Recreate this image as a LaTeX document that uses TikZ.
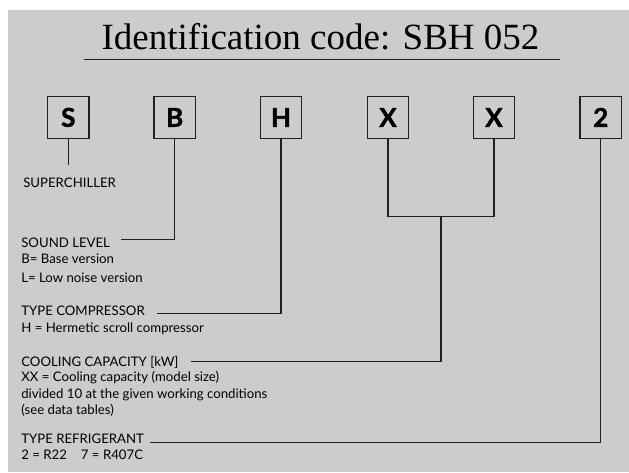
\documentclass[tikz,border=0pt]{standalone}
\usepackage{fontspec}
\setmainfont{Lato}
\newfontfamily\titlefont{Liberation Serif}
\newfontfamily\codefont{Lato}[BoldFeatures={FakeBold=1.6}]
\definecolor{panel}{gray}{0.8}
\definecolor{ink}{gray}{0.12}

\begin{document}
\begin{tikzpicture}
[x=1pt,y=-1pt,line width=1.2pt,draw=ink,%
  codebox/.style={shape=rectangle,draw,minimum size=41.5pt,inner sep=0pt,%
    font=\codefont\fontsize{26}{26}\selectfont\bfseries},%
  heading/.style={anchor=base west,inner sep=0pt,text depth=0pt,%
    font=\fontsize{13.2}{16}\selectfont},%
  detail/.style={anchor=base west,inner sep=0pt,align=left,%
    font=\fontsize{13.2}{16.3}\selectfont},%
  elbow/.style={to path={-| (\tikztotarget)}}]
\useasboundingbox (0,0) rectangle (629,472);
\fill[panel] (8,10) rectangle (629,472);
%% title
\node[anchor=base,inner sep=0pt,font=\titlefont\fontsize{37}{40}\selectfont]
  (title) at (320.5,49.3) {Identification code: SBH 052};
\draw (83.5,59.3) -- (560,59.3);
%% code letters
\foreach \name/\letter/\xpos in {s/S/68.3, b/B/174.7, h/H/281, xa/X/388, xb/X/494, r/2/600.7}
  \node[codebox] (\name) at (\xpos,117.4) {\letter};
%% texts (multi-line ones sit on their last line)
\node[heading] (super) at (22.7,187) {SUPERCHILLER};
\node[heading] (sound) at (20.7,247.3) {SOUND LEVEL};
\node[detail] (sound info) at (20.7,282) {B= Base version\\[2pt]L= Low noise version};
\node[heading] (comp) at (20.7,315.7) {TYPE COMPRESSOR};
\node[detail] (comp info) at (20.7,332.7) {H = Hermetic scroll compressor};
\node[heading] (cool) at (20.7,366.7) {COOLING CAPACITY [kW]};
\node[detail] (cool info) at (20.7,414.5) {XX = Cooling capacity (model size)\\
  divided 10 at the given working conditions\\(see data tables)};
\node[heading] (refr) at (20.7,443.3) {TYPE REFRIGERANT};
\node[detail] (refr info) at (20.7,459.3) {2 = R22\hspace{14pt}7 = R407C};
%% connectors
\coordinate (xjoin) at (441,216.7);
\draw (s.south) -- (s.south |- super.north) [shorten >=11.7pt];
\draw (xa.south) |- (xjoin) -| (xb.south);
\path
\foreach \startNode/\endNode/\gap/\lift in {sound/b/10.7/2.7, comp/h/11.7/-2.9, cool/xjoin/11.7/0, refr/r/5/-3.7}
{
  ([xshift=\gap pt,yshift=\lift pt]\startNode.east) edge[elbow] (\endNode)
};
\end{tikzpicture}
\end{document}
